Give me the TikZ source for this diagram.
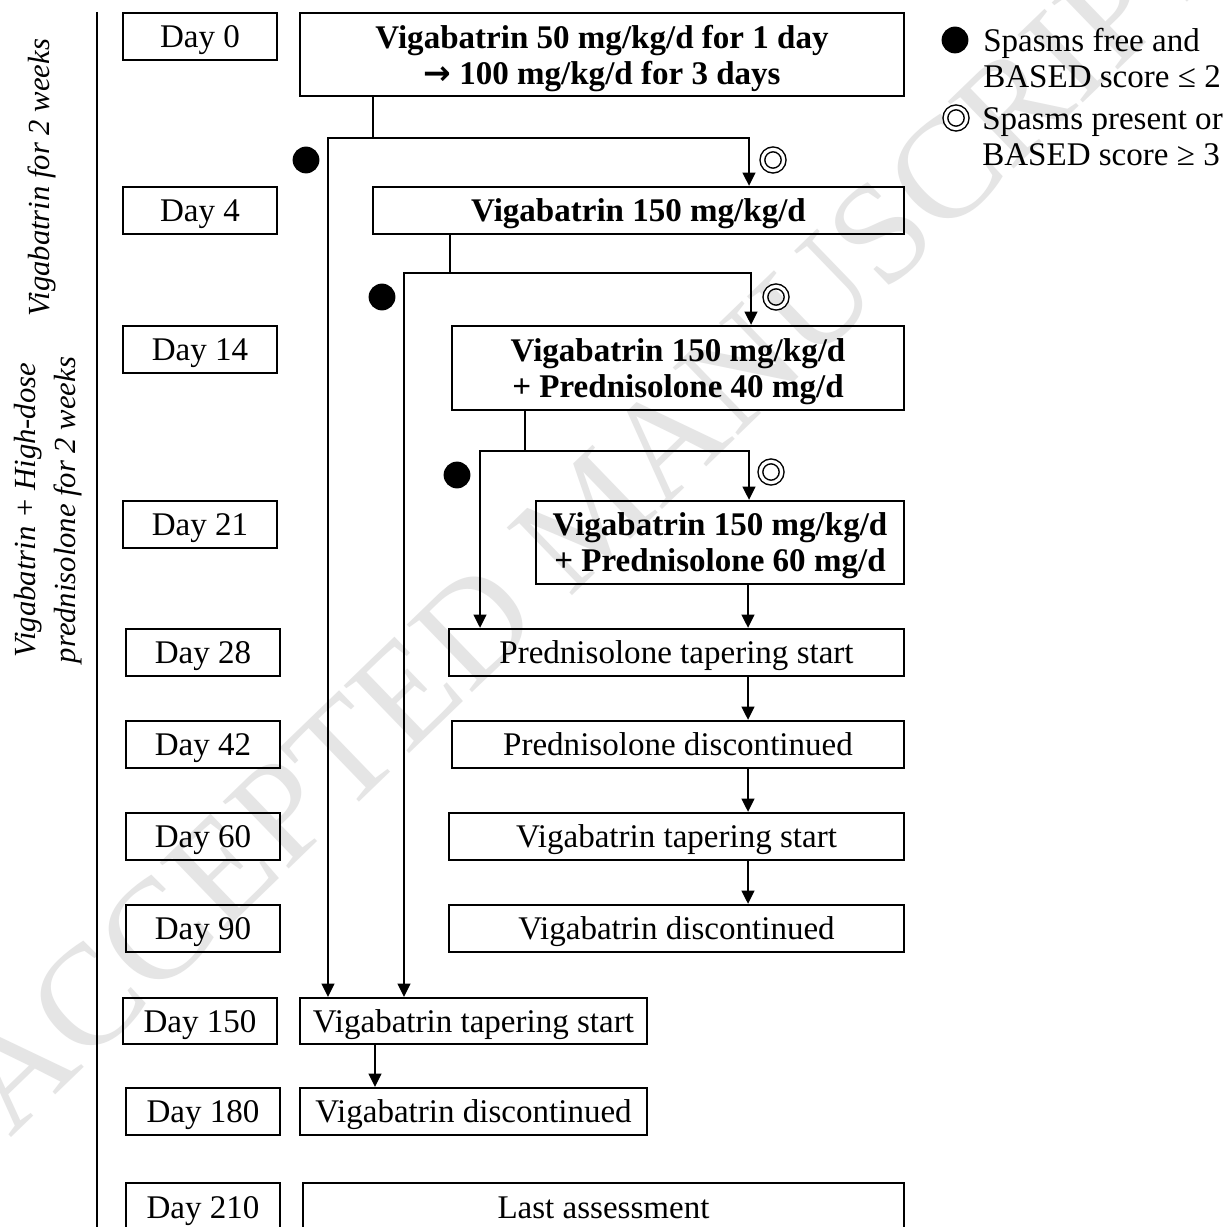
\documentclass[tikz,border=0pt]{standalone}
\usepackage{fontspec}
\setmainfont{Liberation Serif}
\newfontfamily\arrowfont{DejaVu Sans}
\usetikzlibrary{arrows.meta,calc}
\tikzset{
  box/.style={draw, line width=1.6pt, inner sep=0pt, align=center, text depth=0pt, font=\fontsize{23.5}{25.6}\selectfont},
  bbox/.style={box, font=\fontsize{23.5}{25.6}\selectfont\bfseries},
  sz/.style n args={2}{minimum width=#1*0.025cm, minimum height=#2*0.025cm},
  conn/.style={line width=1.6pt},
  arr/.style={conn, -{Triangle[length=9.5pt,width=9pt]}},
  fdot/.style={circle, fill=black, inner sep=0pt, minimum size=0.67cm},
  dcirc/.style={circle, draw=black, double=white, double distance=2.3pt, line width=1.05pt, inner sep=0pt, minimum size=0.53cm},
  vlabel/.style={rotate=90, align=center, font=\fontsize{21.8}{28.4}\selectfont\itshape},
  legtext/.style={anchor=west, align=left, font=\fontsize{23.5}{25.6}\selectfont, inner sep=0pt},
}
\begin{document}
\begin{tikzpicture}[x=0.025cm, y=-0.025cm]
\useasboundingbox (0,0) rectangle (1225,1227);
\fill[white] (0,0) rectangle (1225,1227);

% watermark
\node[rotate=44, text=black!10, font=\fontsize{102}{102}\selectfont, inner sep=0pt] (wm) at (590,514) {ACCEPTED MANUSCRIPT};

% timeline axis and phase labels
\coordinate (ax1) at (97,12);
\coordinate (ax2) at (97,1232);
\draw[line width=1.6pt] (ax1) -- (ax2);
\node[vlabel] (ph1) at (42,178) {Vigabatrin for 2 weeks};
\node[vlabel] (ph2) at (48,510) {Vigabatrin + High-dose\\prednisolone for 2 weeks};

% day boxes
\node[box, sz={154}{47}] (d0) at (200,36.5) {Day 0};
\node[box, sz={154}{47}] (d4) at (200,210.5) {Day 4};
\node[box, sz={154}{47}] (d14) at (200,349.5) {Day 14};
\node[box, sz={154}{47}] (d21) at (200,524.5) {Day 21};
\node[box, sz={154}{47}] (d28) at (203,652.5) {Day 28};
\node[box, sz={154}{47}] (d42) at (203,744.5) {Day 42};
\node[box, sz={154}{47}] (d60) at (203,836.5) {Day 60};
\node[box, sz={154}{47}] (d90) at (203,928.5) {Day 90};
\node[box, sz={154}{46}] (d150) at (200,1021) {Day 150};
\node[box, sz={154}{47}] (d180) at (203,1111.5) {Day 180};
\node[box, sz={154}{49}] (d210) at (203,1207.5) {Day 210};

% treatment boxes
\node[bbox, sz={604}{83}] (b0) at (602,54.5) {Vigabatrin 50 mg/kg/d for 1 day\\{\arrowfont\bfseries →} 100 mg/kg/d for 3 days};
\node[bbox, sz={531}{47}] (b4) at (638.5,210.5) {Vigabatrin 150 mg/kg/d};
\node[bbox, sz={452}{84}] (b14) at (678,368) {Vigabatrin 150 mg/kg/d\\+ Prednisolone 40 mg/d};
\node[bbox, sz={368}{83}] (b21) at (720,542.5) {Vigabatrin 150 mg/kg/d\\+ Prednisolone 60 mg/d};
\node[box, sz={455}{47}] (pts) at (676.5,652.5) {Prednisolone tapering start};
\node[box, sz={452}{47}] (pd) at (678,744.5) {Prednisolone discontinued};
\node[box, sz={455}{47}] (vts) at (676.5,836.5) {Vigabatrin tapering start};
\node[box, sz={455}{47}] (vd) at (676.5,928.5) {Vigabatrin discontinued};
\node[box, sz={347}{46}] (vts2) at (473.5,1021) {Vigabatrin tapering start};
\node[box, sz={347}{47}] (vd2) at (473.5,1111.5) {Vigabatrin discontinued};
\node[box, sz={601}{49}] (last) at (603.5,1207.5) {Last assessment};

% branch 1 (Day 4)
\coordinate (j0) at (373,138);
\coordinate (l0) at (328,138);
\coordinate (r0) at (749,138);
\draw[conn] (b0.south -| j0) -- (j0);
\draw[arr] (j0) -- (l0) -- (l0 |- vts2.north);
\draw[arr] (j0) -- (r0) -- (r0 |- b4.north);
\node[fdot] (m0a) at (306,160) {};
\node[dcirc] (m0b) at (773,160) {};

% branch 2 (Day 14)
\coordinate (j1) at (450,273);
\coordinate (l1) at (404,273);
\coordinate (r1) at (751,273);
\draw[conn] (b4.south -| j1) -- (j1);
\draw[arr] (j1) -- (l1) -- (l1 |- vts2.north);
\draw[arr] (j1) -- (r1) -- (r1 |- b14.north);
\node[fdot] (m1a) at (382,297) {};
\node[dcirc] (m1b) at (776,297) {};

% branch 3 (Day 21)
\coordinate (j2) at (525,451);
\coordinate (l2) at (480,451);
\coordinate (r2) at (749,451);
\draw[conn] (b14.south -| j2) -- (j2);
\draw[arr] (j2) -- (l2) -- (l2 |- pts.north);
\draw[arr] (j2) -- (r2) -- (r2 |- b21.north);
\node[fdot] (m2a) at (457,475) {};
\node[dcirc] (m2b) at (771,472) {};

% straight flows
\coordinate (cx) at (748,0);
\draw[arr] (b21.south -| cx) -- (pts.north -| cx);
\draw[arr] (pts.south -| cx) -- (pd.north -| cx);
\draw[arr] (pd.south -| cx) -- (vts.north -| cx);
\draw[arr] (vts.south -| cx) -- (vd.north -| cx);
\coordinate (cx2) at (375,0);
\draw[arr] (vts2.south -| cx2) -- (vd2.north -| cx2);

% legend
\node[fdot] (lg1) at (955,40) {};
\node[legtext] (lt1) at (983,58) {Spasms free and\\BASED score ≤ 2};
\node[dcirc] (lg2) at (956,118) {};
\node[legtext] (lt2) at (982,137) {Spasms present or\\BASED score ≥ 3};
\end{tikzpicture}
\end{document}
